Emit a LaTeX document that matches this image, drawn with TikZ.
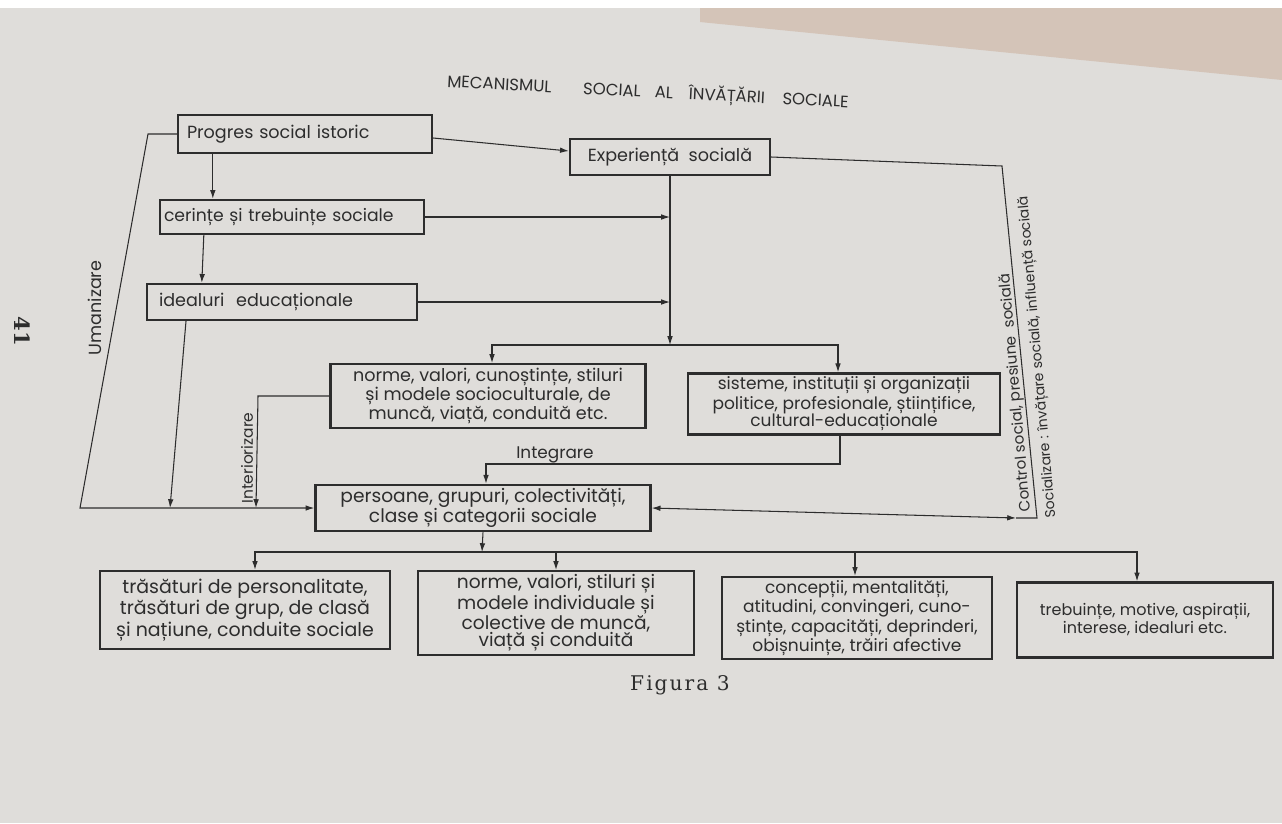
\documentclass[tikz,border=0pt]{standalone}
\usepackage{fontspec}
\setmainfont{Poppins}
\newfontfamily\figfont[LetterSpace=10]{DejaVu Serif}
\newfontfamily\pgfont{DejaVu Serif}
\usetikzlibrary{arrows.meta,calc}
\definecolor{paper}{RGB}{223,221,218}
\definecolor{ink}{RGB}{45,45,45}
\definecolor{edge}{RGB}{212,196,184}
\def\pxu{0.02cm}
\newcommand\fs[2]{\fontsize{#1}{#2}\selectfont}
\begin{document}
\begin{tikzpicture}[x=0.02cm,y=-0.02cm,
  box/.style={draw=ink,line width=1.35pt,inner sep=2pt,text=ink},
  conn/.style={draw=ink,line width=0.6pt},
  arr/.style={conn,-{Latex[length=5pt,width=3.2pt]}},
  lab/.style={text=ink,inner sep=1pt}]
% background
\fill[paper] (0,0) rectangle (1282,823);
\fill[white] (0,0) rectangle (1282,8);
\fill[edge] (700,8) -- (1282,8) -- (1282,80) -- (700,22) -- cycle;
\useasboundingbox (0,0) rectangle (1282,823);

% title and page number
\node[text=ink,font=\fs{9.4}{10},rotate=-2.9] (title) at (648,92)
  {MECANISMUL\hspace{18pt}SOCIAL\hspace{8pt}AL\hspace{9pt}ÎNVĂȚĂRII\hspace{10pt}SOCIALE};
\node[text=ink,font=\pgfont\bfseries\fs{12}{13},rotate=-90] (page) at (22,331) {41};

% upper boxes
\node[box,font=\fs{10}{11},minimum width=254*\pxu,minimum height=38*\pxu,align=left,text width=236*\pxu] (prog) at (305,134) {Progres social istoric};
\node[box,font=\fs{10}{11},minimum width=200*\pxu,minimum height=36*\pxu] (exp) at (670,157) {Experiență\ \ socială};
\node[box,font=\fs{9.8}{11},minimum width=264*\pxu,minimum height=34*\pxu,align=left,text width=256*\pxu] (cer) at (292,217) {cerințe și trebuințe sociale};
\node[box,font=\fs{10}{11},minimum width=270*\pxu,minimum height=36*\pxu,align=left,text width=246*\pxu] (ideal) at (282,302) {idealuri\ \ educaționale};

% middle boxes
\node[box,font=\fs{10}{9.6},minimum width=315*\pxu,minimum height=56*\pxu,align=center] (norme) at (488,396)
  {norme, valori, cunoștințe, stiluri\\ și modele socioculturale, de\\ muncă, viață, conduită etc.};
\node[box,font=\fs{9.7}{10},minimum width=312*\pxu,minimum height=56*\pxu,align=center] (sis) at (844,404)
  {sisteme, instituții și organizații\\ politice, profesionale, științifice,\\ cultural-educaționale};
\node[box,font=\fs{10.6}{11.4},minimum width=335*\pxu,minimum height=46*\pxu,align=center] (pers) at (483,508)
  {persoane, grupuri, colectivități,\\ clase și categorii sociale};

% bottom boxes
\node[box,font=\fs{10.8}{10.6},minimum width=290*\pxu,minimum height=78*\pxu,align=center] (b1) at (245,610)
  {trăsături de personalitate,\\ trăsături de grup, de clasă\\ și națiune, conduite sociale};
\node[box,font=\fs{10.6}{9.6},minimum width=276*\pxu,minimum height=78*\pxu,align=center] (b2) at (556,613)
  {norme, valori, stiluri și\\ modele individuale și\\ colective de muncă,\\ viață și conduită};
\node[box,font=\fs{9.7}{9.5},minimum width=270*\pxu,minimum height=80*\pxu,align=center] (b3) at (857,618)
  {concepții, mentalități,\\ atitudini, convingeri, cuno-\\ ștințe, capacități, deprinderi,\\ obișnuințe, trăiri afective};
\node[box,font=\fs{9.1}{10.2},minimum width=256*\pxu,minimum height=75*\pxu,align=center] (b4) at (1145,620)
  {trebuințe, motive, aspirații,\\ interese, idealuri etc.};

\node[text=ink,font=\figfont\fs{11.5}{13}] (fig) at (680,685) {Figura 3};

% coordinates
\coordinate (j1) at (670,345);
\coordinate (u1) at (148,134);
\coordinate (u2) at (80,508);
\coordinate (id1) at (186,320);
\coordinate (id2) at (170,508);
\coordinate (in1) at (258,396);
\coordinate (in2) at (256,508);
\coordinate (ig1) at (840,464);
\coordinate (ig2) at (486,464);
\coordinate (bus) at (482,552);
\coordinate (r1) at (1002,166);
\coordinate (r2) at (1037,518);
\coordinate (r3) at (1016,518);

% connectors
\draw[arr] ($(prog.east)+(0,4)$) -- ($(exp.west)+(0,-6)$);
\draw[arr] ($(prog.south west)+(36,0)$) -- ($(cer.north west)+(54,0)$);
\draw[arr] ($(cer.south west)+(45,0)$) -- ($(ideal.north west)+(56,0)$);
\draw[arr] (cer.east) -- (cer.east -| j1);
\draw[arr] (ideal.east) -- (ideal.east -| j1);
\draw[arr] (exp.south) -- (j1);
\draw[arr] (j1) -| ($(norme.north)+(4,0)$);
\draw[arr] (j1) -| ($(sis.north)+(-6,0)$);
% Umanizare
\draw[arr] (prog.west) -- (u1) -- (u2) -- (pers.west);
\node[lab,font=\fs{10}{11},rotate=90] (uman) at (95,308) {Umanizare};
% idealuri down
\draw[arr] (ideal.south -| id1) -- (id2);
% Interiorizare
\draw[arr] (norme.west) -- (in1) -- (in2);
\node[lab,font=\fs{8.8}{10},rotate=90] (inter) at (247,458) {Interiorizare};
% Integrare
\draw[arr] (sis.south -| ig1) -- (ig1) -- (ig2) -- (pers.north -| ig2);
\node[lab,font=\fs{9.6}{10},anchor=south] (integ) at (555,465) {Integrare};
% right loop
\draw[conn] (exp.east) -- (r1) -- (r2) -- (r3);
\draw[conn,{Latex[length=5pt,width=3.2pt]}-{Latex[length=5pt,width=3.2pt]}] (pers.east) -- (r3);
\node[lab,font=\fs{8.6}{10},rotate=95,anchor=west] (ctrl) at (1027,514) {Control social,\ presiune\ \ socială};
\node[lab,font=\fs{8}{9},rotate=95,anchor=west] (soc) at (1052,520) {Socializare : învățare socială, influență socială};
% bottom distribution
\draw[arr] (pers.south) -- (bus);
\draw[arr] (bus) -| ($(b1.north)+(10,0)$);
\draw[arr] (bus) -| ($(b2.north)+(0,0)$);
\draw[arr] (bus) -| ($(b3.north)+(-2,0)$);
\draw[arr] (bus) -| ($(b4.north)+(-8,0)$);
\end{tikzpicture}
\end{document}
